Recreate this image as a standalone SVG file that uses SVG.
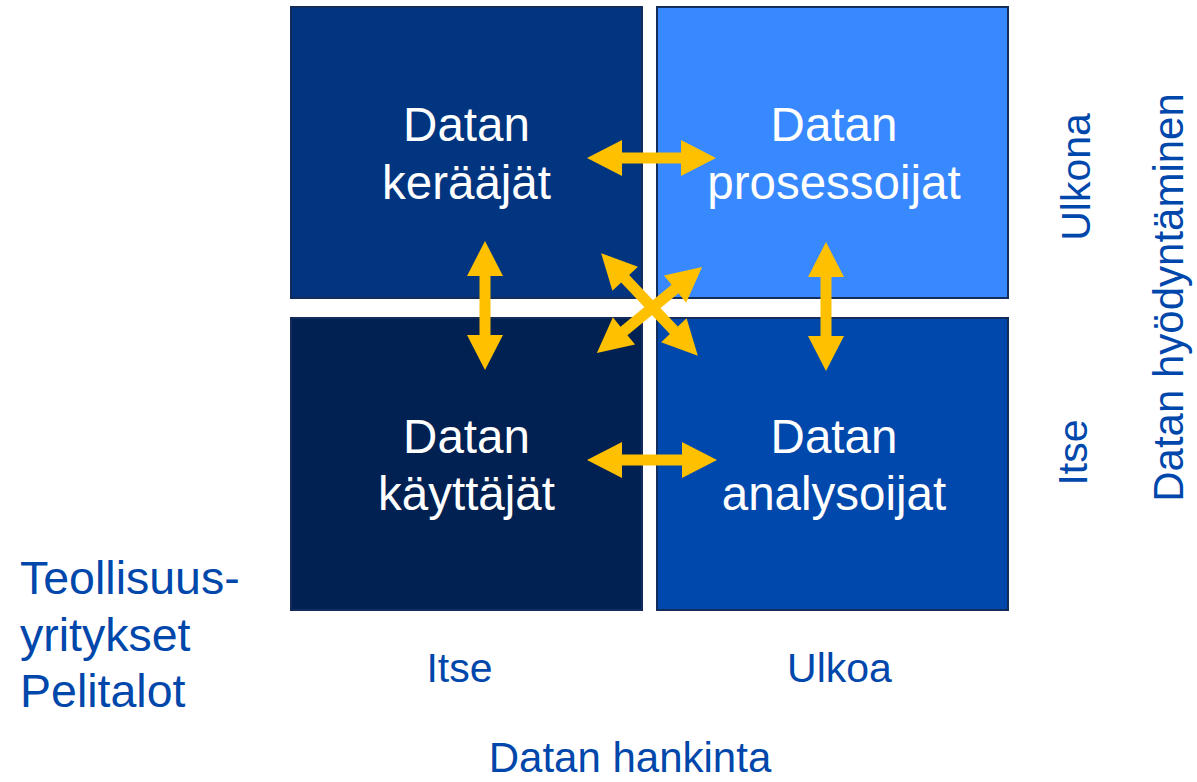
<svg xmlns="http://www.w3.org/2000/svg" width="1197" height="782" viewBox="0 0 1197 782">
  <style>
    .box { stroke: #142c5c; stroke-width: 2; }
    .inner { font-family: "Liberation Sans", Arial, sans-serif; font-size: 47.5px; fill: #ffffff; text-anchor: middle; }
    .lbl { font-family: "Liberation Sans", Arial, sans-serif; font-size: 41px; fill: #0047ab; }
    .mid { text-anchor: middle; }
    .arrow { fill: #ffc000; }
  </style>
  <rect width="1197" height="782" fill="#ffffff"/>

  <g id="node-kerääjät">
    <rect class="box" x="291" y="7" width="351" height="291" fill="#013580"/>
    <text class="inner" x="466.5" y="141">Datan</text>
    <text class="inner" x="466.5" y="199">kerääjät</text>
  </g>
  <g id="node-prosessoijat">
    <rect class="box" x="657" y="7" width="351" height="291" fill="#3889ff"/>
    <text class="inner" x="834" y="141">Datan</text>
    <text class="inner" x="834" y="199">prosessoijat</text>
  </g>
  <g id="node-käyttäjät">
    <rect class="box" x="291" y="318" width="351" height="292" fill="#002152"/>
    <text class="inner" x="466.5" y="453">Datan</text>
    <text class="inner" x="466.5" y="510">käyttäjät</text>
  </g>
  <g id="node-analysoijat">
    <rect class="box" x="657" y="318" width="351" height="292" fill="#0048ab"/>
    <text class="inner" x="834" y="453">Datan</text>
    <text class="inner" x="834" y="510">analysoijat</text>
  </g>

  <g id="connectors">
    <polygon class="arrow" points="587,158 622,140 622,152.5 681,152.5 681,140 716,158 681,176 681,163.5 622,163.5 622,176"/>
    <polygon class="arrow" points="587,460 622,442 622,454.5 682,454.5 682,442 717,460 682,478 682,465.5 622,465.5 622,478"/>
    <polygon class="arrow" points="485,241 503,276 490.5,276 490.5,335 503,335 485,370 467,335 479.5,335 479.5,276 467,276"/>
    <polygon class="arrow" points="826,242 844,277 831.5,277 831.5,336 844,336 826,371 808,336 820.5,336 820.5,277 808,277"/>
    <polygon class="arrow" transform="translate(649.5,304.5) rotate(46.7)" points="-70.5,0 -35.5,-17.5 -35.5,-5.5 35.5,-5.5 35.5,-17.5 70.5,0 35.5,17.5 35.5,5.5 -35.5,5.5 -35.5,17.5"/>
    <polygon class="arrow" transform="translate(649.5,310) rotate(-39.3)" points="-68,0 -33,-17.5 -33,-5.5 33,-5.5 33,-17.5 68,0 33,17.5 33,5.5 -33,5.5 -33,17.5"/>
  </g>

  <g id="axis-labels">
    <text class="lbl mid" x="459.5" y="682">Itse</text>
    <text class="lbl mid" x="839.5" y="682">Ulkoa</text>
    <text class="lbl mid" x="630" y="772" style="font-size:42px">Datan hankinta</text>
    <text class="lbl mid" transform="translate(1090,177) rotate(-90)">Ulkona</text>
    <text class="lbl mid" transform="translate(1087,452.5) rotate(-90)">Itse</text>
    <text class="lbl mid" transform="translate(1183,297.5) rotate(-90)" style="font-size:42px">Datan hyödyntäminen</text>
    <text class="lbl" x="20" y="594" style="font-size:46.5px">Teollisuus-</text>
    <text class="lbl" x="20" y="651" style="font-size:46.5px">yritykset</text>
    <text class="lbl" x="20" y="707" style="font-size:46.5px">Pelitalot</text>
  </g>
</svg>
